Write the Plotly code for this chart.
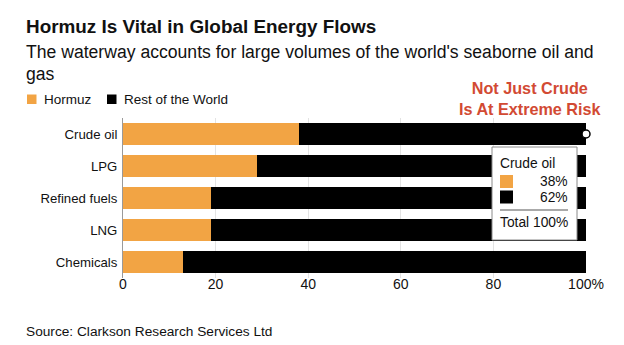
import plotly.graph_objects as go

# Share of seaborne flows passing through the Strait of Hormuz (%)
categories = ["Crude oil", "LPG", "Refined fuels", "LNG", "Chemicals"]
hormuz = [38, 29, 19, 19, 13]
rest_of_world = [62, 71, 81, 81, 87]
x_ticks = [0, 20, 40, 60, 80, 100]
x_tick_labels = ["0", "20", "40", "60", "80", "100%"]

ORANGE = "#F2A444"
BLACK = "#000000"
RED = "#D24A33"
FONT = "Liberation Sans"

W, H = 624, 345
L, R, T, B = 123, 38, 118, 67
PW, PH = W - L - R, H - T - B


def px(x):
    """Horizontal pixel -> paper coordinate."""
    return (x - L) / PW


def py(y):
    """Vertical pixel (from top) -> paper coordinate."""
    return (H - B - y) / PH


fig = go.Figure()
fig.add_trace(go.Bar(y=categories, x=hormuz, name="Hormuz", orientation="h",
                     marker=dict(color=ORANGE, line_width=0)))
fig.add_trace(go.Bar(y=categories, x=rest_of_world, name="Rest of the World",
                     orientation="h", marker=dict(color=BLACK, line_width=0)))

# hover point at the end of the first bar
focus = 0
total = hormuz[focus] + rest_of_world[focus]
fig.add_trace(go.Scatter(x=[total], y=[categories[focus]], mode="markers",
                         marker=dict(size=8, color="white",
                                     line=dict(color=BLACK, width=1.5)),
                         showlegend=False, cliponaxis=False))

annotations = []
shapes = []

# title block
annotations.append(dict(text="<b>Hormuz Is Vital in Global Energy Flows</b>",
                        x=px(24), y=py(26), xanchor="left", yanchor="middle",
                        font=dict(size=18.9, color="#111111")))
annotations.append(dict(text="The waterway accounts for large volumes of the world's seaborne oil and",
                        x=px(24), y=py(52), xanchor="left", yanchor="middle",
                        font=dict(size=17.6, color="#111111")))
annotations.append(dict(text="gas", x=px(24), y=py(74), xanchor="left", yanchor="middle",
                        font=dict(size=17.6, color="#111111")))

# legend
legend_items = [("Hormuz", ORANGE, 27, 42), ("Rest of the World", BLACK, 107, 122)]
for label, color, sx, tx in legend_items:
    shapes.append(dict(type="rect", xref="paper", yref="paper",
                       x0=px(sx), x1=px(sx + 9.5), y0=py(94.5), y1=py(104),
                       fillcolor=color, line_width=0))
    annotations.append(dict(text=label, x=px(tx), y=py(99), xanchor="left",
                            yanchor="middle", font=dict(size=13.5, color="#111111")))

# red callout
annotations.append(dict(text="<b>Not Just Crude<br>Is At Extreme Risk</b>",
                        x=px(530), y=py(98), xanchor="center", yanchor="middle",
                        align="center", font=dict(size=16.2, color=RED)))

# tooltip box for the hovered category
shapes.append(dict(type="rect", xref="paper", yref="paper", layer="above",
                   x0=px(492), x1=px(577), y0=py(147), y1=py(240),
                   fillcolor="white", line=dict(color="#8a8a8a", width=1)))
annotations.append(dict(text=categories[focus], x=px(498), y=py(163), xanchor="left",
                        yanchor="middle", font=dict(size=13.8, color="#111111")))
rows = [(ORANGE, hormuz[focus], 181.5), (BLACK, rest_of_world[focus], 197)]
for color, val, cy in rows:
    shapes.append(dict(type="rect", xref="paper", yref="paper", layer="above",
                       x0=px(500), x1=px(513), y0=py(cy - 6.5), y1=py(cy + 6.5),
                       fillcolor=color, line_width=0))
    annotations.append(dict(text=f"{val}%", x=px(570), y=py(cy), xanchor="right",
                            yanchor="middle", font=dict(size=13.8, color="#111111")))
shapes.append(dict(type="line", xref="paper", yref="paper", layer="above",
                   x0=px(500), x1=px(568), y0=py(210), y1=py(210),
                   line=dict(color="#555555", width=1)))
annotations.append(dict(text=f"Total {total}%", x=px(570), y=py(222), xanchor="right",
                        yanchor="middle", font=dict(size=13.8, color="#111111")))

# source
annotations.append(dict(text="Source: Clarkson Research Services Ltd", x=px(24), y=py(331),
                        xanchor="left", yanchor="middle",
                        font=dict(size=13.7, color="#111111")))

for a in annotations:
    a.update(xref="paper", yref="paper", showarrow=False)

fig.update_layout(
    width=W, height=H,
    margin=dict(l=L, r=R, t=T, b=B),
    barmode="stack", bargap=0.31,
    showlegend=False,
    paper_bgcolor="white", plot_bgcolor="white",
    font=dict(family=FONT, size=13.5, color="#111111"),
    annotations=annotations, shapes=shapes,
    xaxis=dict(range=[0, 100], tickvals=x_ticks, ticktext=x_tick_labels,
               showgrid=True, gridcolor="#e3e3e3", gridwidth=1, zeroline=False,
               showline=False, ticks="", fixedrange=True, ticklabelstandoff=-4,
               tickfont=dict(size=14, color="#111111")),
    yaxis=dict(categoryorder="array", categoryarray=categories, autorange="reversed",
               showgrid=False, zeroline=False, showline=True, linecolor="#9a9a9a",
               linewidth=1, ticks="", ticklabelstandoff=2,
               tickfont=dict(size=13.2, color="#111111")),
)

fig.write_html("out.html")
